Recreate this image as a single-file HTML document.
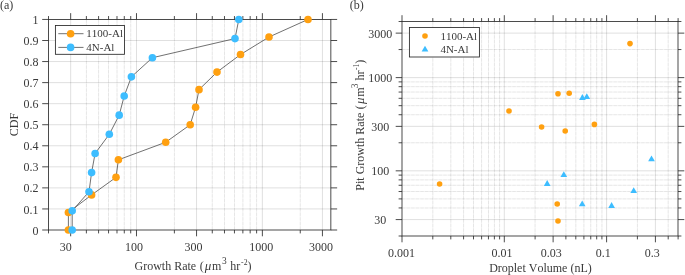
<!DOCTYPE html>
<html><head><meta charset="utf-8"><title>Figure</title>
<style>
html,body{margin:0;padding:0;background:#fff;}
body{width:685px;height:275px;overflow:hidden;}
svg{display:block;will-change:transform;font-kerning:none;font-family:"Liberation Serif",serif;fill:#3a3a3a;}
</style></head><body>
<svg width="685" height="275" viewBox="0 0 685 275">
<rect width="685" height="275" fill="#fff"/>
<line x1="70.67" y1="19.45" x2="70.67" y2="230.00" stroke="#262626" stroke-width="1.0" stroke-opacity="0.14"/>
<line x1="136.49" y1="19.45" x2="136.49" y2="230.00" stroke="#262626" stroke-width="1.0" stroke-opacity="0.14"/>
<line x1="196.55" y1="19.45" x2="196.55" y2="230.00" stroke="#262626" stroke-width="1.0" stroke-opacity="0.14"/>
<line x1="262.37" y1="19.45" x2="262.37" y2="230.00" stroke="#262626" stroke-width="1.0" stroke-opacity="0.14"/>
<line x1="322.43" y1="19.45" x2="322.43" y2="230.00" stroke="#262626" stroke-width="1.0" stroke-opacity="0.14"/>
<line x1="86.39" y1="19.45" x2="86.39" y2="230.00" stroke="#262626" stroke-width="1.0" stroke-opacity="0.06"/>
<line x1="86.39" y1="19.45" x2="86.39" y2="230.00" stroke="#262626" stroke-width="1.0" stroke-opacity="0.055" stroke-dasharray="3.3 1.3"/>
<line x1="98.59" y1="19.45" x2="98.59" y2="230.00" stroke="#262626" stroke-width="1.0" stroke-opacity="0.06"/>
<line x1="98.59" y1="19.45" x2="98.59" y2="230.00" stroke="#262626" stroke-width="1.0" stroke-opacity="0.055" stroke-dasharray="3.3 1.3"/>
<line x1="108.56" y1="19.45" x2="108.56" y2="230.00" stroke="#262626" stroke-width="1.0" stroke-opacity="0.06"/>
<line x1="108.56" y1="19.45" x2="108.56" y2="230.00" stroke="#262626" stroke-width="1.0" stroke-opacity="0.055" stroke-dasharray="3.3 1.3"/>
<line x1="116.99" y1="19.45" x2="116.99" y2="230.00" stroke="#262626" stroke-width="1.0" stroke-opacity="0.06"/>
<line x1="116.99" y1="19.45" x2="116.99" y2="230.00" stroke="#262626" stroke-width="1.0" stroke-opacity="0.055" stroke-dasharray="3.3 1.3"/>
<line x1="124.29" y1="19.45" x2="124.29" y2="230.00" stroke="#262626" stroke-width="1.0" stroke-opacity="0.06"/>
<line x1="124.29" y1="19.45" x2="124.29" y2="230.00" stroke="#262626" stroke-width="1.0" stroke-opacity="0.055" stroke-dasharray="3.3 1.3"/>
<line x1="130.73" y1="19.45" x2="130.73" y2="230.00" stroke="#262626" stroke-width="1.0" stroke-opacity="0.06"/>
<line x1="130.73" y1="19.45" x2="130.73" y2="230.00" stroke="#262626" stroke-width="1.0" stroke-opacity="0.055" stroke-dasharray="3.3 1.3"/>
<line x1="174.38" y1="19.45" x2="174.38" y2="230.00" stroke="#262626" stroke-width="1.0" stroke-opacity="0.06"/>
<line x1="174.38" y1="19.45" x2="174.38" y2="230.00" stroke="#262626" stroke-width="1.0" stroke-opacity="0.055" stroke-dasharray="3.3 1.3"/>
<line x1="212.27" y1="19.45" x2="212.27" y2="230.00" stroke="#262626" stroke-width="1.0" stroke-opacity="0.06"/>
<line x1="212.27" y1="19.45" x2="212.27" y2="230.00" stroke="#262626" stroke-width="1.0" stroke-opacity="0.055" stroke-dasharray="3.3 1.3"/>
<line x1="224.47" y1="19.45" x2="224.47" y2="230.00" stroke="#262626" stroke-width="1.0" stroke-opacity="0.06"/>
<line x1="224.47" y1="19.45" x2="224.47" y2="230.00" stroke="#262626" stroke-width="1.0" stroke-opacity="0.055" stroke-dasharray="3.3 1.3"/>
<line x1="234.44" y1="19.45" x2="234.44" y2="230.00" stroke="#262626" stroke-width="1.0" stroke-opacity="0.06"/>
<line x1="234.44" y1="19.45" x2="234.44" y2="230.00" stroke="#262626" stroke-width="1.0" stroke-opacity="0.055" stroke-dasharray="3.3 1.3"/>
<line x1="242.87" y1="19.45" x2="242.87" y2="230.00" stroke="#262626" stroke-width="1.0" stroke-opacity="0.06"/>
<line x1="242.87" y1="19.45" x2="242.87" y2="230.00" stroke="#262626" stroke-width="1.0" stroke-opacity="0.055" stroke-dasharray="3.3 1.3"/>
<line x1="250.17" y1="19.45" x2="250.17" y2="230.00" stroke="#262626" stroke-width="1.0" stroke-opacity="0.06"/>
<line x1="250.17" y1="19.45" x2="250.17" y2="230.00" stroke="#262626" stroke-width="1.0" stroke-opacity="0.055" stroke-dasharray="3.3 1.3"/>
<line x1="256.61" y1="19.45" x2="256.61" y2="230.00" stroke="#262626" stroke-width="1.0" stroke-opacity="0.06"/>
<line x1="256.61" y1="19.45" x2="256.61" y2="230.00" stroke="#262626" stroke-width="1.0" stroke-opacity="0.055" stroke-dasharray="3.3 1.3"/>
<line x1="300.26" y1="19.45" x2="300.26" y2="230.00" stroke="#262626" stroke-width="1.0" stroke-opacity="0.06"/>
<line x1="300.26" y1="19.45" x2="300.26" y2="230.00" stroke="#262626" stroke-width="1.0" stroke-opacity="0.055" stroke-dasharray="3.3 1.3"/>
<line x1="48.50" y1="208.94" x2="330.85" y2="208.94" stroke="#262626" stroke-width="1.0" stroke-opacity="0.14"/>
<line x1="48.50" y1="187.89" x2="330.85" y2="187.89" stroke="#262626" stroke-width="1.0" stroke-opacity="0.14"/>
<line x1="48.50" y1="166.84" x2="330.85" y2="166.84" stroke="#262626" stroke-width="1.0" stroke-opacity="0.14"/>
<line x1="48.50" y1="145.78" x2="330.85" y2="145.78" stroke="#262626" stroke-width="1.0" stroke-opacity="0.14"/>
<line x1="48.50" y1="124.72" x2="330.85" y2="124.72" stroke="#262626" stroke-width="1.0" stroke-opacity="0.14"/>
<line x1="48.50" y1="103.67" x2="330.85" y2="103.67" stroke="#262626" stroke-width="1.0" stroke-opacity="0.14"/>
<line x1="48.50" y1="82.62" x2="330.85" y2="82.62" stroke="#262626" stroke-width="1.0" stroke-opacity="0.14"/>
<line x1="48.50" y1="61.56" x2="330.85" y2="61.56" stroke="#262626" stroke-width="1.0" stroke-opacity="0.14"/>
<line x1="48.50" y1="40.50" x2="330.85" y2="40.50" stroke="#262626" stroke-width="1.0" stroke-opacity="0.14"/>
<line x1="70.67" y1="230.00" x2="70.67" y2="236.30" stroke="#2c2c2c" stroke-width="0.85" />
<line x1="70.67" y1="19.45" x2="70.67" y2="13.15" stroke="#2c2c2c" stroke-width="0.85" />
<line x1="136.49" y1="230.00" x2="136.49" y2="236.30" stroke="#2c2c2c" stroke-width="0.85" />
<line x1="136.49" y1="19.45" x2="136.49" y2="13.15" stroke="#2c2c2c" stroke-width="0.85" />
<line x1="196.55" y1="230.00" x2="196.55" y2="236.30" stroke="#2c2c2c" stroke-width="0.85" />
<line x1="196.55" y1="19.45" x2="196.55" y2="13.15" stroke="#2c2c2c" stroke-width="0.85" />
<line x1="262.37" y1="230.00" x2="262.37" y2="236.30" stroke="#2c2c2c" stroke-width="0.85" />
<line x1="262.37" y1="19.45" x2="262.37" y2="13.15" stroke="#2c2c2c" stroke-width="0.85" />
<line x1="322.43" y1="230.00" x2="322.43" y2="236.30" stroke="#2c2c2c" stroke-width="0.85" />
<line x1="322.43" y1="19.45" x2="322.43" y2="13.15" stroke="#2c2c2c" stroke-width="0.85" />
<line x1="48.50" y1="230.00" x2="48.50" y2="233.40" stroke="#2c2c2c" stroke-width="0.85" />
<line x1="48.50" y1="19.45" x2="48.50" y2="16.05" stroke="#2c2c2c" stroke-width="0.85" />
<line x1="86.39" y1="230.00" x2="86.39" y2="233.40" stroke="#2c2c2c" stroke-width="0.85" />
<line x1="86.39" y1="19.45" x2="86.39" y2="16.05" stroke="#2c2c2c" stroke-width="0.85" />
<line x1="98.59" y1="230.00" x2="98.59" y2="233.40" stroke="#2c2c2c" stroke-width="0.85" />
<line x1="98.59" y1="19.45" x2="98.59" y2="16.05" stroke="#2c2c2c" stroke-width="0.85" />
<line x1="108.56" y1="230.00" x2="108.56" y2="233.40" stroke="#2c2c2c" stroke-width="0.85" />
<line x1="108.56" y1="19.45" x2="108.56" y2="16.05" stroke="#2c2c2c" stroke-width="0.85" />
<line x1="116.99" y1="230.00" x2="116.99" y2="233.40" stroke="#2c2c2c" stroke-width="0.85" />
<line x1="116.99" y1="19.45" x2="116.99" y2="16.05" stroke="#2c2c2c" stroke-width="0.85" />
<line x1="124.29" y1="230.00" x2="124.29" y2="233.40" stroke="#2c2c2c" stroke-width="0.85" />
<line x1="124.29" y1="19.45" x2="124.29" y2="16.05" stroke="#2c2c2c" stroke-width="0.85" />
<line x1="130.73" y1="230.00" x2="130.73" y2="233.40" stroke="#2c2c2c" stroke-width="0.85" />
<line x1="130.73" y1="19.45" x2="130.73" y2="16.05" stroke="#2c2c2c" stroke-width="0.85" />
<line x1="174.38" y1="230.00" x2="174.38" y2="233.40" stroke="#2c2c2c" stroke-width="0.85" />
<line x1="174.38" y1="19.45" x2="174.38" y2="16.05" stroke="#2c2c2c" stroke-width="0.85" />
<line x1="212.27" y1="230.00" x2="212.27" y2="233.40" stroke="#2c2c2c" stroke-width="0.85" />
<line x1="212.27" y1="19.45" x2="212.27" y2="16.05" stroke="#2c2c2c" stroke-width="0.85" />
<line x1="224.47" y1="230.00" x2="224.47" y2="233.40" stroke="#2c2c2c" stroke-width="0.85" />
<line x1="224.47" y1="19.45" x2="224.47" y2="16.05" stroke="#2c2c2c" stroke-width="0.85" />
<line x1="234.44" y1="230.00" x2="234.44" y2="233.40" stroke="#2c2c2c" stroke-width="0.85" />
<line x1="234.44" y1="19.45" x2="234.44" y2="16.05" stroke="#2c2c2c" stroke-width="0.85" />
<line x1="242.87" y1="230.00" x2="242.87" y2="233.40" stroke="#2c2c2c" stroke-width="0.85" />
<line x1="242.87" y1="19.45" x2="242.87" y2="16.05" stroke="#2c2c2c" stroke-width="0.85" />
<line x1="250.17" y1="230.00" x2="250.17" y2="233.40" stroke="#2c2c2c" stroke-width="0.85" />
<line x1="250.17" y1="19.45" x2="250.17" y2="16.05" stroke="#2c2c2c" stroke-width="0.85" />
<line x1="256.61" y1="230.00" x2="256.61" y2="233.40" stroke="#2c2c2c" stroke-width="0.85" />
<line x1="256.61" y1="19.45" x2="256.61" y2="16.05" stroke="#2c2c2c" stroke-width="0.85" />
<line x1="300.26" y1="230.00" x2="300.26" y2="233.40" stroke="#2c2c2c" stroke-width="0.85" />
<line x1="300.26" y1="19.45" x2="300.26" y2="16.05" stroke="#2c2c2c" stroke-width="0.85" />
<line x1="48.50" y1="230.00" x2="42.20" y2="230.00" stroke="#2c2c2c" stroke-width="0.85" />
<line x1="330.85" y1="230.00" x2="337.15" y2="230.00" stroke="#2c2c2c" stroke-width="0.85" />
<line x1="48.50" y1="208.94" x2="42.20" y2="208.94" stroke="#2c2c2c" stroke-width="0.85" />
<line x1="330.85" y1="208.94" x2="337.15" y2="208.94" stroke="#2c2c2c" stroke-width="0.85" />
<line x1="48.50" y1="187.89" x2="42.20" y2="187.89" stroke="#2c2c2c" stroke-width="0.85" />
<line x1="330.85" y1="187.89" x2="337.15" y2="187.89" stroke="#2c2c2c" stroke-width="0.85" />
<line x1="48.50" y1="166.84" x2="42.20" y2="166.84" stroke="#2c2c2c" stroke-width="0.85" />
<line x1="330.85" y1="166.84" x2="337.15" y2="166.84" stroke="#2c2c2c" stroke-width="0.85" />
<line x1="48.50" y1="145.78" x2="42.20" y2="145.78" stroke="#2c2c2c" stroke-width="0.85" />
<line x1="330.85" y1="145.78" x2="337.15" y2="145.78" stroke="#2c2c2c" stroke-width="0.85" />
<line x1="48.50" y1="124.72" x2="42.20" y2="124.72" stroke="#2c2c2c" stroke-width="0.85" />
<line x1="330.85" y1="124.72" x2="337.15" y2="124.72" stroke="#2c2c2c" stroke-width="0.85" />
<line x1="48.50" y1="103.67" x2="42.20" y2="103.67" stroke="#2c2c2c" stroke-width="0.85" />
<line x1="330.85" y1="103.67" x2="337.15" y2="103.67" stroke="#2c2c2c" stroke-width="0.85" />
<line x1="48.50" y1="82.62" x2="42.20" y2="82.62" stroke="#2c2c2c" stroke-width="0.85" />
<line x1="330.85" y1="82.62" x2="337.15" y2="82.62" stroke="#2c2c2c" stroke-width="0.85" />
<line x1="48.50" y1="61.56" x2="42.20" y2="61.56" stroke="#2c2c2c" stroke-width="0.85" />
<line x1="330.85" y1="61.56" x2="337.15" y2="61.56" stroke="#2c2c2c" stroke-width="0.85" />
<line x1="48.50" y1="40.50" x2="42.20" y2="40.50" stroke="#2c2c2c" stroke-width="0.85" />
<line x1="330.85" y1="40.50" x2="337.15" y2="40.50" stroke="#2c2c2c" stroke-width="0.85" />
<line x1="48.50" y1="19.45" x2="42.20" y2="19.45" stroke="#2c2c2c" stroke-width="0.85" />
<line x1="330.85" y1="19.45" x2="337.15" y2="19.45" stroke="#2c2c2c" stroke-width="0.85" />
<rect x="48.50" y="19.45" width="282.35" height="210.55" fill="none" stroke="#2c2c2c" stroke-width="0.85"/>
<polyline fill="none" stroke="#4d4d4d" stroke-width="0.8" points="68.40,230.00 68.40,212.45 91.60,194.91 116.00,177.36 118.40,159.82 165.70,142.27 190.20,124.72 195.60,107.18 199.00,89.63 217.00,72.09 240.50,54.54 269.00,37.00 308.00,19.45"/>
<circle cx="68.40" cy="230.00" r="3.8" fill="#ffa010"/>
<circle cx="68.40" cy="212.45" r="3.8" fill="#ffa010"/>
<circle cx="91.60" cy="194.91" r="3.8" fill="#ffa010"/>
<circle cx="116.00" cy="177.36" r="3.8" fill="#ffa010"/>
<circle cx="118.40" cy="159.82" r="3.8" fill="#ffa010"/>
<circle cx="165.70" cy="142.27" r="3.8" fill="#ffa010"/>
<circle cx="190.20" cy="124.72" r="3.8" fill="#ffa010"/>
<circle cx="195.60" cy="107.18" r="3.8" fill="#ffa010"/>
<circle cx="199.00" cy="89.63" r="3.8" fill="#ffa010"/>
<circle cx="217.00" cy="72.09" r="3.8" fill="#ffa010"/>
<circle cx="240.50" cy="54.54" r="3.8" fill="#ffa010"/>
<circle cx="269.00" cy="37.00" r="3.8" fill="#ffa010"/>
<circle cx="308.00" cy="19.45" r="3.8" fill="#ffa010"/>
<polyline fill="none" stroke="#4d4d4d" stroke-width="0.8" points="72.20,230.00 72.20,210.86 89.00,191.72 91.60,172.58 95.10,153.44 109.30,134.30 119.20,115.15 124.20,96.01 131.40,76.87 152.40,57.73 235.00,38.59 238.80,19.45"/>
<circle cx="72.20" cy="230.00" r="3.8" fill="#3dbdff"/>
<circle cx="72.20" cy="210.86" r="3.8" fill="#3dbdff"/>
<circle cx="89.00" cy="191.72" r="3.8" fill="#3dbdff"/>
<circle cx="91.60" cy="172.58" r="3.8" fill="#3dbdff"/>
<circle cx="95.10" cy="153.44" r="3.8" fill="#3dbdff"/>
<circle cx="109.30" cy="134.30" r="3.8" fill="#3dbdff"/>
<circle cx="119.20" cy="115.15" r="3.8" fill="#3dbdff"/>
<circle cx="124.20" cy="96.01" r="3.8" fill="#3dbdff"/>
<circle cx="131.40" cy="76.87" r="3.8" fill="#3dbdff"/>
<circle cx="152.40" cy="57.73" r="3.8" fill="#3dbdff"/>
<circle cx="235.00" cy="38.59" r="3.8" fill="#3dbdff"/>
<circle cx="238.80" cy="19.45" r="3.8" fill="#3dbdff"/>
<text x="65.80" y="250.90" font-size="12" text-anchor="middle" >30</text>
<text x="133.90" y="250.90" font-size="12" text-anchor="middle" >100</text>
<text x="193.60" y="250.90" font-size="12" text-anchor="middle" >300</text>
<text x="261.20" y="250.90" font-size="12" text-anchor="middle" >1000</text>
<text x="321.00" y="250.90" font-size="12" text-anchor="middle" >3000</text>
<text x="38.60" y="234.60" font-size="12" text-anchor="end" >0</text>
<text x="38.60" y="213.54" font-size="12" text-anchor="end" >0.1</text>
<text x="38.60" y="192.49" font-size="12" text-anchor="end" >0.2</text>
<text x="38.60" y="171.44" font-size="12" text-anchor="end" >0.3</text>
<text x="38.60" y="150.38" font-size="12" text-anchor="end" >0.4</text>
<text x="38.60" y="129.32" font-size="12" text-anchor="end" >0.5</text>
<text x="38.60" y="108.27" font-size="12" text-anchor="end" >0.6</text>
<text x="38.60" y="87.22" font-size="12" text-anchor="end" >0.7</text>
<text x="38.60" y="66.16" font-size="12" text-anchor="end" >0.8</text>
<text x="38.60" y="45.10" font-size="12" text-anchor="end" >0.9</text>
<text x="38.60" y="24.05" font-size="12" text-anchor="end" >1</text>
<g transform="translate(134.50,269.70)">
<text x="0.00" y="0.00" font-size="12" >Growth Rate</text>
<text x="65.20" y="0.00" font-size="12" >(</text>
<text x="70.30" y="0.00" font-size="13" font-style="italic">μ</text>
<text x="77.60" y="0.00" font-size="12" >m</text>
<text x="87.50" y="-5.60" font-size="9.4" >3</text>
<text x="95.80" y="0.00" font-size="12" >hr</text>
<text x="106.60" y="-4.70" font-size="7.7" >-2</text>
<text x="112.90" y="0.00" font-size="12" >)</text>
</g>
<text transform="translate(18.2,124.6) rotate(-90)" font-size="12" text-anchor="middle">CDF</text>
<text x="0.00" y="8.90" font-size="12" text-anchor="start" >(a)</text>
<rect x="55.4" y="25.5" width="69.1" height="28.8" fill="#fff" stroke="#262626" stroke-width="0.85"/>
<line x1="58.30" y1="33.70" x2="83.50" y2="33.70" stroke="#4d4d4d" stroke-width="0.8" />
<circle cx="70.6" cy="33.7" r="3.8" fill="#ffa010"/>
<text x="86.30" y="37.40" font-size="11" text-anchor="start" >1100-Al</text>
<line x1="58.30" y1="47.40" x2="83.50" y2="47.40" stroke="#4d4d4d" stroke-width="0.8" />
<circle cx="70.6" cy="47.4" r="3.8" fill="#3dbdff"/>
<text x="86.30" y="51.10" font-size="11" text-anchor="start" >4N-Al</text>
<line x1="504.30" y1="21.50" x2="504.30" y2="236.00" stroke="#262626" stroke-width="1.0" stroke-opacity="0.14"/>
<line x1="553.11" y1="21.50" x2="553.11" y2="236.00" stroke="#262626" stroke-width="1.0" stroke-opacity="0.14"/>
<line x1="606.60" y1="21.50" x2="606.60" y2="236.00" stroke="#262626" stroke-width="1.0" stroke-opacity="0.14"/>
<line x1="655.41" y1="21.50" x2="655.41" y2="236.00" stroke="#262626" stroke-width="1.0" stroke-opacity="0.14"/>
<line x1="432.80" y1="21.50" x2="432.80" y2="236.00" stroke="#262626" stroke-width="1.0" stroke-opacity="0.06"/>
<line x1="450.81" y1="21.50" x2="450.81" y2="236.00" stroke="#262626" stroke-width="1.0" stroke-opacity="0.06"/>
<line x1="463.59" y1="21.50" x2="463.59" y2="236.00" stroke="#262626" stroke-width="1.0" stroke-opacity="0.06"/>
<line x1="473.50" y1="21.50" x2="473.50" y2="236.00" stroke="#262626" stroke-width="1.0" stroke-opacity="0.06"/>
<line x1="481.60" y1="21.50" x2="481.60" y2="236.00" stroke="#262626" stroke-width="1.0" stroke-opacity="0.06"/>
<line x1="488.45" y1="21.50" x2="488.45" y2="236.00" stroke="#262626" stroke-width="1.0" stroke-opacity="0.06"/>
<line x1="494.39" y1="21.50" x2="494.39" y2="236.00" stroke="#262626" stroke-width="1.0" stroke-opacity="0.06"/>
<line x1="499.62" y1="21.50" x2="499.62" y2="236.00" stroke="#262626" stroke-width="1.0" stroke-opacity="0.06"/>
<line x1="535.10" y1="21.50" x2="535.10" y2="236.00" stroke="#262626" stroke-width="1.0" stroke-opacity="0.06"/>
<line x1="565.89" y1="21.50" x2="565.89" y2="236.00" stroke="#262626" stroke-width="1.0" stroke-opacity="0.06"/>
<line x1="575.80" y1="21.50" x2="575.80" y2="236.00" stroke="#262626" stroke-width="1.0" stroke-opacity="0.06"/>
<line x1="583.90" y1="21.50" x2="583.90" y2="236.00" stroke="#262626" stroke-width="1.0" stroke-opacity="0.06"/>
<line x1="590.75" y1="21.50" x2="590.75" y2="236.00" stroke="#262626" stroke-width="1.0" stroke-opacity="0.06"/>
<line x1="596.69" y1="21.50" x2="596.69" y2="236.00" stroke="#262626" stroke-width="1.0" stroke-opacity="0.06"/>
<line x1="601.92" y1="21.50" x2="601.92" y2="236.00" stroke="#262626" stroke-width="1.0" stroke-opacity="0.06"/>
<line x1="637.40" y1="21.50" x2="637.40" y2="236.00" stroke="#262626" stroke-width="1.0" stroke-opacity="0.06"/>
<line x1="668.19" y1="21.50" x2="668.19" y2="236.00" stroke="#262626" stroke-width="1.0" stroke-opacity="0.06"/>
<line x1="432.80" y1="21.50" x2="432.80" y2="236.00" stroke="#262626" stroke-width="1.0" stroke-opacity="0.055" stroke-dasharray="3.3 1.3"/>
<line x1="450.81" y1="21.50" x2="450.81" y2="236.00" stroke="#262626" stroke-width="1.0" stroke-opacity="0.055" stroke-dasharray="3.3 1.3"/>
<line x1="463.59" y1="21.50" x2="463.59" y2="236.00" stroke="#262626" stroke-width="1.0" stroke-opacity="0.055" stroke-dasharray="3.3 1.3"/>
<line x1="473.50" y1="21.50" x2="473.50" y2="236.00" stroke="#262626" stroke-width="1.0" stroke-opacity="0.055" stroke-dasharray="3.3 1.3"/>
<line x1="481.60" y1="21.50" x2="481.60" y2="236.00" stroke="#262626" stroke-width="1.0" stroke-opacity="0.055" stroke-dasharray="3.3 1.3"/>
<line x1="488.45" y1="21.50" x2="488.45" y2="236.00" stroke="#262626" stroke-width="1.0" stroke-opacity="0.055" stroke-dasharray="3.3 1.3"/>
<line x1="494.39" y1="21.50" x2="494.39" y2="236.00" stroke="#262626" stroke-width="1.0" stroke-opacity="0.055" stroke-dasharray="3.3 1.3"/>
<line x1="499.62" y1="21.50" x2="499.62" y2="236.00" stroke="#262626" stroke-width="1.0" stroke-opacity="0.055" stroke-dasharray="3.3 1.3"/>
<line x1="535.10" y1="21.50" x2="535.10" y2="236.00" stroke="#262626" stroke-width="1.0" stroke-opacity="0.055" stroke-dasharray="3.3 1.3"/>
<line x1="565.89" y1="21.50" x2="565.89" y2="236.00" stroke="#262626" stroke-width="1.0" stroke-opacity="0.055" stroke-dasharray="3.3 1.3"/>
<line x1="575.80" y1="21.50" x2="575.80" y2="236.00" stroke="#262626" stroke-width="1.0" stroke-opacity="0.055" stroke-dasharray="3.3 1.3"/>
<line x1="583.90" y1="21.50" x2="583.90" y2="236.00" stroke="#262626" stroke-width="1.0" stroke-opacity="0.055" stroke-dasharray="3.3 1.3"/>
<line x1="590.75" y1="21.50" x2="590.75" y2="236.00" stroke="#262626" stroke-width="1.0" stroke-opacity="0.055" stroke-dasharray="3.3 1.3"/>
<line x1="596.69" y1="21.50" x2="596.69" y2="236.00" stroke="#262626" stroke-width="1.0" stroke-opacity="0.055" stroke-dasharray="3.3 1.3"/>
<line x1="601.92" y1="21.50" x2="601.92" y2="236.00" stroke="#262626" stroke-width="1.0" stroke-opacity="0.055" stroke-dasharray="3.3 1.3"/>
<line x1="637.40" y1="21.50" x2="637.40" y2="236.00" stroke="#262626" stroke-width="1.0" stroke-opacity="0.055" stroke-dasharray="3.3 1.3"/>
<line x1="668.19" y1="21.50" x2="668.19" y2="236.00" stroke="#262626" stroke-width="1.0" stroke-opacity="0.055" stroke-dasharray="3.3 1.3"/>
<line x1="402.00" y1="219.58" x2="678.00" y2="219.58" stroke="#262626" stroke-width="1.0" stroke-opacity="0.14"/>
<line x1="402.00" y1="170.84" x2="678.00" y2="170.84" stroke="#262626" stroke-width="1.0" stroke-opacity="0.14"/>
<line x1="402.00" y1="126.36" x2="678.00" y2="126.36" stroke="#262626" stroke-width="1.0" stroke-opacity="0.14"/>
<line x1="402.00" y1="77.62" x2="678.00" y2="77.62" stroke="#262626" stroke-width="1.0" stroke-opacity="0.14"/>
<line x1="402.00" y1="33.14" x2="678.00" y2="33.14" stroke="#262626" stroke-width="1.0" stroke-opacity="0.14"/>
<line x1="402.00" y1="207.94" x2="678.00" y2="207.94" stroke="#262626" stroke-width="1.0" stroke-opacity="0.06"/>
<line x1="402.00" y1="198.90" x2="678.00" y2="198.90" stroke="#262626" stroke-width="1.0" stroke-opacity="0.06"/>
<line x1="402.00" y1="191.52" x2="678.00" y2="191.52" stroke="#262626" stroke-width="1.0" stroke-opacity="0.06"/>
<line x1="402.00" y1="185.28" x2="678.00" y2="185.28" stroke="#262626" stroke-width="1.0" stroke-opacity="0.06"/>
<line x1="402.00" y1="179.88" x2="678.00" y2="179.88" stroke="#262626" stroke-width="1.0" stroke-opacity="0.06"/>
<line x1="402.00" y1="175.11" x2="678.00" y2="175.11" stroke="#262626" stroke-width="1.0" stroke-opacity="0.06"/>
<line x1="402.00" y1="142.78" x2="678.00" y2="142.78" stroke="#262626" stroke-width="1.0" stroke-opacity="0.06"/>
<line x1="402.00" y1="114.72" x2="678.00" y2="114.72" stroke="#262626" stroke-width="1.0" stroke-opacity="0.06"/>
<line x1="402.00" y1="105.68" x2="678.00" y2="105.68" stroke="#262626" stroke-width="1.0" stroke-opacity="0.06"/>
<line x1="402.00" y1="98.30" x2="678.00" y2="98.30" stroke="#262626" stroke-width="1.0" stroke-opacity="0.06"/>
<line x1="402.00" y1="92.06" x2="678.00" y2="92.06" stroke="#262626" stroke-width="1.0" stroke-opacity="0.06"/>
<line x1="402.00" y1="86.66" x2="678.00" y2="86.66" stroke="#262626" stroke-width="1.0" stroke-opacity="0.06"/>
<line x1="402.00" y1="81.89" x2="678.00" y2="81.89" stroke="#262626" stroke-width="1.0" stroke-opacity="0.06"/>
<line x1="402.00" y1="49.56" x2="678.00" y2="49.56" stroke="#262626" stroke-width="1.0" stroke-opacity="0.06"/>
<line x1="402.00" y1="207.94" x2="678.00" y2="207.94" stroke="#262626" stroke-width="1.0" stroke-opacity="0.055" stroke-dasharray="3.3 1.3"/>
<line x1="402.00" y1="198.90" x2="678.00" y2="198.90" stroke="#262626" stroke-width="1.0" stroke-opacity="0.055" stroke-dasharray="3.3 1.3"/>
<line x1="402.00" y1="191.52" x2="678.00" y2="191.52" stroke="#262626" stroke-width="1.0" stroke-opacity="0.055" stroke-dasharray="3.3 1.3"/>
<line x1="402.00" y1="185.28" x2="678.00" y2="185.28" stroke="#262626" stroke-width="1.0" stroke-opacity="0.055" stroke-dasharray="3.3 1.3"/>
<line x1="402.00" y1="179.88" x2="678.00" y2="179.88" stroke="#262626" stroke-width="1.0" stroke-opacity="0.055" stroke-dasharray="3.3 1.3"/>
<line x1="402.00" y1="175.11" x2="678.00" y2="175.11" stroke="#262626" stroke-width="1.0" stroke-opacity="0.055" stroke-dasharray="3.3 1.3"/>
<line x1="402.00" y1="142.78" x2="678.00" y2="142.78" stroke="#262626" stroke-width="1.0" stroke-opacity="0.055" stroke-dasharray="3.3 1.3"/>
<line x1="402.00" y1="114.72" x2="678.00" y2="114.72" stroke="#262626" stroke-width="1.0" stroke-opacity="0.055" stroke-dasharray="3.3 1.3"/>
<line x1="402.00" y1="105.68" x2="678.00" y2="105.68" stroke="#262626" stroke-width="1.0" stroke-opacity="0.055" stroke-dasharray="3.3 1.3"/>
<line x1="402.00" y1="98.30" x2="678.00" y2="98.30" stroke="#262626" stroke-width="1.0" stroke-opacity="0.055" stroke-dasharray="3.3 1.3"/>
<line x1="402.00" y1="92.06" x2="678.00" y2="92.06" stroke="#262626" stroke-width="1.0" stroke-opacity="0.055" stroke-dasharray="3.3 1.3"/>
<line x1="402.00" y1="86.66" x2="678.00" y2="86.66" stroke="#262626" stroke-width="1.0" stroke-opacity="0.055" stroke-dasharray="3.3 1.3"/>
<line x1="402.00" y1="81.89" x2="678.00" y2="81.89" stroke="#262626" stroke-width="1.0" stroke-opacity="0.055" stroke-dasharray="3.3 1.3"/>
<line x1="402.00" y1="49.56" x2="678.00" y2="49.56" stroke="#262626" stroke-width="1.0" stroke-opacity="0.055" stroke-dasharray="3.3 1.3"/>
<line x1="402.00" y1="236.00" x2="402.00" y2="242.30" stroke="#2c2c2c" stroke-width="0.85" />
<line x1="402.00" y1="21.50" x2="402.00" y2="15.20" stroke="#2c2c2c" stroke-width="0.85" />
<line x1="504.30" y1="236.00" x2="504.30" y2="242.30" stroke="#2c2c2c" stroke-width="0.85" />
<line x1="504.30" y1="21.50" x2="504.30" y2="15.20" stroke="#2c2c2c" stroke-width="0.85" />
<line x1="553.11" y1="236.00" x2="553.11" y2="242.30" stroke="#2c2c2c" stroke-width="0.85" />
<line x1="553.11" y1="21.50" x2="553.11" y2="15.20" stroke="#2c2c2c" stroke-width="0.85" />
<line x1="606.60" y1="236.00" x2="606.60" y2="242.30" stroke="#2c2c2c" stroke-width="0.85" />
<line x1="606.60" y1="21.50" x2="606.60" y2="15.20" stroke="#2c2c2c" stroke-width="0.85" />
<line x1="655.41" y1="236.00" x2="655.41" y2="242.30" stroke="#2c2c2c" stroke-width="0.85" />
<line x1="655.41" y1="21.50" x2="655.41" y2="15.20" stroke="#2c2c2c" stroke-width="0.85" />
<line x1="432.80" y1="236.00" x2="432.80" y2="239.40" stroke="#2c2c2c" stroke-width="0.85" />
<line x1="432.80" y1="21.50" x2="432.80" y2="18.10" stroke="#2c2c2c" stroke-width="0.85" />
<line x1="450.81" y1="236.00" x2="450.81" y2="239.40" stroke="#2c2c2c" stroke-width="0.85" />
<line x1="450.81" y1="21.50" x2="450.81" y2="18.10" stroke="#2c2c2c" stroke-width="0.85" />
<line x1="463.59" y1="236.00" x2="463.59" y2="239.40" stroke="#2c2c2c" stroke-width="0.85" />
<line x1="463.59" y1="21.50" x2="463.59" y2="18.10" stroke="#2c2c2c" stroke-width="0.85" />
<line x1="473.50" y1="236.00" x2="473.50" y2="239.40" stroke="#2c2c2c" stroke-width="0.85" />
<line x1="473.50" y1="21.50" x2="473.50" y2="18.10" stroke="#2c2c2c" stroke-width="0.85" />
<line x1="481.60" y1="236.00" x2="481.60" y2="239.40" stroke="#2c2c2c" stroke-width="0.85" />
<line x1="481.60" y1="21.50" x2="481.60" y2="18.10" stroke="#2c2c2c" stroke-width="0.85" />
<line x1="488.45" y1="236.00" x2="488.45" y2="239.40" stroke="#2c2c2c" stroke-width="0.85" />
<line x1="488.45" y1="21.50" x2="488.45" y2="18.10" stroke="#2c2c2c" stroke-width="0.85" />
<line x1="494.39" y1="236.00" x2="494.39" y2="239.40" stroke="#2c2c2c" stroke-width="0.85" />
<line x1="494.39" y1="21.50" x2="494.39" y2="18.10" stroke="#2c2c2c" stroke-width="0.85" />
<line x1="499.62" y1="236.00" x2="499.62" y2="239.40" stroke="#2c2c2c" stroke-width="0.85" />
<line x1="499.62" y1="21.50" x2="499.62" y2="18.10" stroke="#2c2c2c" stroke-width="0.85" />
<line x1="535.10" y1="236.00" x2="535.10" y2="239.40" stroke="#2c2c2c" stroke-width="0.85" />
<line x1="535.10" y1="21.50" x2="535.10" y2="18.10" stroke="#2c2c2c" stroke-width="0.85" />
<line x1="565.89" y1="236.00" x2="565.89" y2="239.40" stroke="#2c2c2c" stroke-width="0.85" />
<line x1="565.89" y1="21.50" x2="565.89" y2="18.10" stroke="#2c2c2c" stroke-width="0.85" />
<line x1="575.80" y1="236.00" x2="575.80" y2="239.40" stroke="#2c2c2c" stroke-width="0.85" />
<line x1="575.80" y1="21.50" x2="575.80" y2="18.10" stroke="#2c2c2c" stroke-width="0.85" />
<line x1="583.90" y1="236.00" x2="583.90" y2="239.40" stroke="#2c2c2c" stroke-width="0.85" />
<line x1="583.90" y1="21.50" x2="583.90" y2="18.10" stroke="#2c2c2c" stroke-width="0.85" />
<line x1="590.75" y1="236.00" x2="590.75" y2="239.40" stroke="#2c2c2c" stroke-width="0.85" />
<line x1="590.75" y1="21.50" x2="590.75" y2="18.10" stroke="#2c2c2c" stroke-width="0.85" />
<line x1="596.69" y1="236.00" x2="596.69" y2="239.40" stroke="#2c2c2c" stroke-width="0.85" />
<line x1="596.69" y1="21.50" x2="596.69" y2="18.10" stroke="#2c2c2c" stroke-width="0.85" />
<line x1="601.92" y1="236.00" x2="601.92" y2="239.40" stroke="#2c2c2c" stroke-width="0.85" />
<line x1="601.92" y1="21.50" x2="601.92" y2="18.10" stroke="#2c2c2c" stroke-width="0.85" />
<line x1="637.40" y1="236.00" x2="637.40" y2="239.40" stroke="#2c2c2c" stroke-width="0.85" />
<line x1="637.40" y1="21.50" x2="637.40" y2="18.10" stroke="#2c2c2c" stroke-width="0.85" />
<line x1="668.19" y1="236.00" x2="668.19" y2="239.40" stroke="#2c2c2c" stroke-width="0.85" />
<line x1="668.19" y1="21.50" x2="668.19" y2="18.10" stroke="#2c2c2c" stroke-width="0.85" />
<line x1="678.10" y1="236.00" x2="678.10" y2="239.40" stroke="#2c2c2c" stroke-width="0.85" />
<line x1="678.10" y1="21.50" x2="678.10" y2="18.10" stroke="#2c2c2c" stroke-width="0.85" />
<line x1="402.00" y1="219.58" x2="395.70" y2="219.58" stroke="#2c2c2c" stroke-width="0.85" />
<line x1="678.00" y1="219.58" x2="684.30" y2="219.58" stroke="#2c2c2c" stroke-width="0.85" />
<line x1="402.00" y1="170.84" x2="395.70" y2="170.84" stroke="#2c2c2c" stroke-width="0.85" />
<line x1="678.00" y1="170.84" x2="684.30" y2="170.84" stroke="#2c2c2c" stroke-width="0.85" />
<line x1="402.00" y1="126.36" x2="395.70" y2="126.36" stroke="#2c2c2c" stroke-width="0.85" />
<line x1="678.00" y1="126.36" x2="684.30" y2="126.36" stroke="#2c2c2c" stroke-width="0.85" />
<line x1="402.00" y1="77.62" x2="395.70" y2="77.62" stroke="#2c2c2c" stroke-width="0.85" />
<line x1="678.00" y1="77.62" x2="684.30" y2="77.62" stroke="#2c2c2c" stroke-width="0.85" />
<line x1="402.00" y1="33.14" x2="395.70" y2="33.14" stroke="#2c2c2c" stroke-width="0.85" />
<line x1="678.00" y1="33.14" x2="684.30" y2="33.14" stroke="#2c2c2c" stroke-width="0.85" />
<line x1="402.00" y1="236.00" x2="398.60" y2="236.00" stroke="#2c2c2c" stroke-width="0.85" />
<line x1="678.00" y1="236.00" x2="681.40" y2="236.00" stroke="#2c2c2c" stroke-width="0.85" />
<line x1="402.00" y1="207.94" x2="398.60" y2="207.94" stroke="#2c2c2c" stroke-width="0.85" />
<line x1="678.00" y1="207.94" x2="681.40" y2="207.94" stroke="#2c2c2c" stroke-width="0.85" />
<line x1="402.00" y1="198.90" x2="398.60" y2="198.90" stroke="#2c2c2c" stroke-width="0.85" />
<line x1="678.00" y1="198.90" x2="681.40" y2="198.90" stroke="#2c2c2c" stroke-width="0.85" />
<line x1="402.00" y1="191.52" x2="398.60" y2="191.52" stroke="#2c2c2c" stroke-width="0.85" />
<line x1="678.00" y1="191.52" x2="681.40" y2="191.52" stroke="#2c2c2c" stroke-width="0.85" />
<line x1="402.00" y1="185.28" x2="398.60" y2="185.28" stroke="#2c2c2c" stroke-width="0.85" />
<line x1="678.00" y1="185.28" x2="681.40" y2="185.28" stroke="#2c2c2c" stroke-width="0.85" />
<line x1="402.00" y1="179.88" x2="398.60" y2="179.88" stroke="#2c2c2c" stroke-width="0.85" />
<line x1="678.00" y1="179.88" x2="681.40" y2="179.88" stroke="#2c2c2c" stroke-width="0.85" />
<line x1="402.00" y1="175.11" x2="398.60" y2="175.11" stroke="#2c2c2c" stroke-width="0.85" />
<line x1="678.00" y1="175.11" x2="681.40" y2="175.11" stroke="#2c2c2c" stroke-width="0.85" />
<line x1="402.00" y1="142.78" x2="398.60" y2="142.78" stroke="#2c2c2c" stroke-width="0.85" />
<line x1="678.00" y1="142.78" x2="681.40" y2="142.78" stroke="#2c2c2c" stroke-width="0.85" />
<line x1="402.00" y1="114.72" x2="398.60" y2="114.72" stroke="#2c2c2c" stroke-width="0.85" />
<line x1="678.00" y1="114.72" x2="681.40" y2="114.72" stroke="#2c2c2c" stroke-width="0.85" />
<line x1="402.00" y1="105.68" x2="398.60" y2="105.68" stroke="#2c2c2c" stroke-width="0.85" />
<line x1="678.00" y1="105.68" x2="681.40" y2="105.68" stroke="#2c2c2c" stroke-width="0.85" />
<line x1="402.00" y1="98.30" x2="398.60" y2="98.30" stroke="#2c2c2c" stroke-width="0.85" />
<line x1="678.00" y1="98.30" x2="681.40" y2="98.30" stroke="#2c2c2c" stroke-width="0.85" />
<line x1="402.00" y1="92.06" x2="398.60" y2="92.06" stroke="#2c2c2c" stroke-width="0.85" />
<line x1="678.00" y1="92.06" x2="681.40" y2="92.06" stroke="#2c2c2c" stroke-width="0.85" />
<line x1="402.00" y1="86.66" x2="398.60" y2="86.66" stroke="#2c2c2c" stroke-width="0.85" />
<line x1="678.00" y1="86.66" x2="681.40" y2="86.66" stroke="#2c2c2c" stroke-width="0.85" />
<line x1="402.00" y1="81.89" x2="398.60" y2="81.89" stroke="#2c2c2c" stroke-width="0.85" />
<line x1="678.00" y1="81.89" x2="681.40" y2="81.89" stroke="#2c2c2c" stroke-width="0.85" />
<line x1="402.00" y1="49.56" x2="398.60" y2="49.56" stroke="#2c2c2c" stroke-width="0.85" />
<line x1="678.00" y1="49.56" x2="681.40" y2="49.56" stroke="#2c2c2c" stroke-width="0.85" />
<line x1="402.00" y1="21.50" x2="398.60" y2="21.50" stroke="#2c2c2c" stroke-width="0.85" />
<line x1="678.00" y1="21.50" x2="681.40" y2="21.50" stroke="#2c2c2c" stroke-width="0.85" />
<rect x="402.00" y="21.50" width="276.00" height="214.50" fill="none" stroke="#2c2c2c" stroke-width="0.85"/>
<circle cx="630.00" cy="43.60" r="2.8" fill="#ffa010"/>
<circle cx="558.00" cy="93.80" r="2.8" fill="#ffa010"/>
<circle cx="569.20" cy="93.20" r="2.8" fill="#ffa010"/>
<circle cx="509.00" cy="111.00" r="2.8" fill="#ffa010"/>
<circle cx="541.60" cy="127.00" r="2.8" fill="#ffa010"/>
<circle cx="565.20" cy="131.00" r="2.8" fill="#ffa010"/>
<circle cx="594.40" cy="124.40" r="2.8" fill="#ffa010"/>
<circle cx="439.60" cy="184.00" r="2.8" fill="#ffa010"/>
<circle cx="557.20" cy="204.00" r="2.8" fill="#ffa010"/>
<circle cx="558.00" cy="221.00" r="2.8" fill="#ffa010"/>
<polygon points="579.05,99.90 585.75,99.90 582.40,94.05" fill="#3dbdff"/>
<polygon points="583.45,99.10 590.15,99.10 586.80,93.25" fill="#3dbdff"/>
<polygon points="648.15,161.30 654.85,161.30 651.50,155.45" fill="#3dbdff"/>
<polygon points="560.45,177.00 567.15,177.00 563.80,171.15" fill="#3dbdff"/>
<polygon points="543.85,185.90 550.55,185.90 547.20,180.05" fill="#3dbdff"/>
<polygon points="630.35,193.10 637.05,193.10 633.70,187.25" fill="#3dbdff"/>
<polygon points="578.85,206.30 585.55,206.30 582.20,200.45" fill="#3dbdff"/>
<polygon points="608.25,207.90 614.95,207.90 611.60,202.05" fill="#3dbdff"/>
<text x="401.40" y="257.00" font-size="12" text-anchor="middle" >0.001</text>
<text x="502.00" y="257.00" font-size="12" text-anchor="middle" >0.01</text>
<text x="551.20" y="257.00" font-size="12" text-anchor="middle" >0.03</text>
<text x="603.20" y="257.00" font-size="12" text-anchor="middle" >0.1</text>
<text x="652.20" y="257.00" font-size="12" text-anchor="middle" >0.3</text>
<text x="380.20" y="224.18" font-size="12" text-anchor="middle" >30</text>
<text x="380.20" y="175.44" font-size="12" text-anchor="middle" >100</text>
<text x="380.20" y="130.96" font-size="12" text-anchor="middle" >300</text>
<text x="380.20" y="82.22" font-size="12" text-anchor="middle" >1000</text>
<text x="380.20" y="37.74" font-size="12" text-anchor="middle" >3000</text>
<text x="540.45" y="271.90" font-size="12" text-anchor="middle" >Droplet Volume (nL)</text>
<g transform="translate(363.60,190.70) rotate(-90)">
<text x="0.00" y="0.00" font-size="12" >Pit Growth Rate</text>
<text x="81.40" y="0.00" font-size="12" >(</text>
<text x="86.60" y="0.00" font-size="13" font-style="italic">μ</text>
<text x="94.00" y="0.00" font-size="12" >m</text>
<text x="102.50" y="-5.60" font-size="9.4" >3</text>
<text x="110.30" y="0.00" font-size="12" >hr</text>
<text x="120.70" y="-4.70" font-size="7.7" >-1</text>
<text x="126.90" y="0.00" font-size="12" >)</text>
</g>
<text x="349.70" y="8.90" font-size="12" text-anchor="start" >(b)</text>
<rect x="409.4" y="27.5" width="70" height="29.5" fill="#fff" stroke="#262626" stroke-width="0.85"/>
<circle cx="425" cy="36" r="2.8" fill="#ffa010"/>
<polygon points="421.65,51.60 428.35,51.60 425.00,45.75" fill="#3dbdff"/>
<text x="440.40" y="39.70" font-size="11" text-anchor="start" >1100-Al</text>
<text x="440.40" y="53.20" font-size="11" text-anchor="start" >4N-Al</text>
</svg>
</body></html>
